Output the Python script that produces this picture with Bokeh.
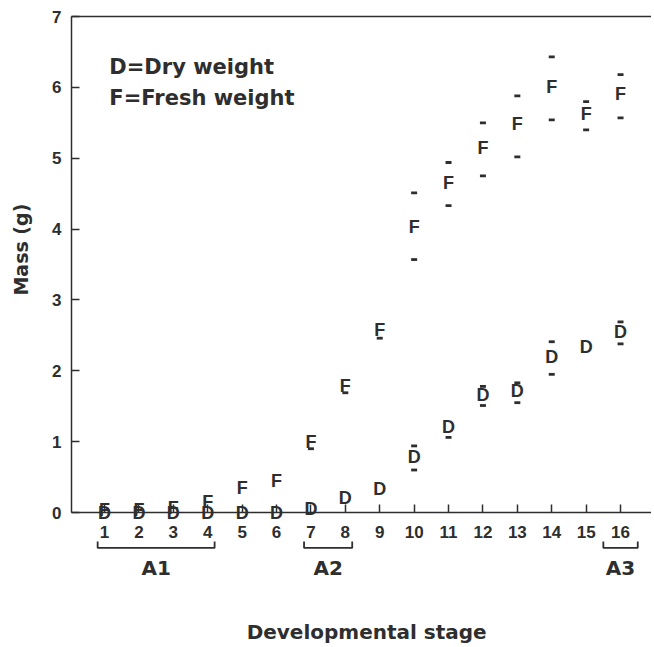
import math
from bokeh.plotting import figure
from bokeh.models import Range1d, Label, FixedTicker, ColumnDataSource
from bokeh.core.properties import value
from bokeh.embed import file_html
from bokeh.resources import INLINE

nan = float("nan")

# ---- data ----
stages = list(range(1, 17))
fresh = [0.03, 0.03, 0.07, 0.15, 0.35, 0.44, 0.99, 1.78, 2.58, 4.03, 4.65, 5.15, 5.49, 6.00, 5.63, 5.90]
fresh_hi = [nan, nan, nan, nan, nan, nan, nan, nan, nan, 4.51, 4.94, 5.50, 5.88, 6.43, 5.80, 6.18]
fresh_lo = [nan, nan, nan, nan, nan, nan, 0.90, 1.69, 2.46, 3.57, 4.33, 4.75, 5.02, 5.54, 5.40, 5.57]
dry = [0.0, 0.0, 0.0, 0.0, 0.0, 0.0, 0.05, 0.21, 0.33, 0.79, 1.20, 1.66, 1.72, 2.20, 2.34, 2.55]
dry_hi = [nan, nan, nan, nan, nan, nan, nan, nan, nan, 0.94, nan, 1.78, 1.83, 2.41, nan, 2.69]
dry_lo = [nan, nan, nan, nan, nan, nan, nan, nan, nan, 0.60, 1.06, 1.51, 1.55, 1.95, nan, 2.38]

group_names = ["A1", "A2", "A3"]
group_first = [1, 7, 16]
group_last = [4, 8, 16]

y_ticks = [0, 1, 2, 3, 4, 5, 6, 7]
legend_lines = ["D=Dry weight", "F=Fresh weight"]
x_title = "Developmental stage"
y_title = "Mass (g)"

INK = "#2e2e2e"
TICK_FONT = "Liberation Sans"
TITLE_FONT = "DejaVu Sans"

X0, X1 = 0.04, 16.9      # extent of the drawn axes
Y0, Y1 = 0.0, 7.0

p = figure(width=651, height=645, output_backend="svg", toolbar_location=None,
           x_range=Range1d(-2.024, 16.9), y_range=Range1d(-1.877, 7.226),
           min_border_left=0, min_border_right=0, min_border_top=0, min_border_bottom=0)
p.background_fill_color = "white"
p.border_fill_color = "white"
p.outline_line_color = None
p.xgrid.visible = False
p.ygrid.visible = False

# x axis sits at y = 0
xa = p.xaxis[0]
xa.fixed_location = Y0
xa.bounds = (X0, X1)
xa.ticker = FixedTicker(ticks=stages)
xa.minor_tick_line_color = None
xa.major_tick_in = 8
xa.major_tick_out = 0
xa.axis_line_color = INK
xa.axis_line_width = 1.5
xa.major_tick_line_color = INK
xa.major_tick_line_width = 1.5
xa.major_label_text_font = TICK_FONT
xa.major_label_text_font_style = "bold"
xa.major_label_text_font_size = "17px"
xa.major_label_text_color = INK
xa.major_label_standoff = 13

# y axis sits at the left end of the x axis
ya = p.yaxis[0]
ya.fixed_location = X0
ya.bounds = (Y0, Y1)
ya.ticker = FixedTicker(ticks=y_ticks)
ya.minor_tick_line_color = None
ya.major_tick_in = 8
ya.major_tick_out = 0
ya.axis_line_color = INK
ya.axis_line_width = 1.5
ya.major_tick_line_color = INK
ya.major_tick_line_width = 1.5
ya.major_label_text_font = TICK_FONT
ya.major_label_text_font_style = "bold"
ya.major_label_text_font_size = "17px"
ya.major_label_text_color = INK
ya.major_label_standoff = 10

# top border of the frame
p.line([X0, X1], [Y1, Y1], line_color=INK, line_width=1.5)

# axis titles
p.add_layout(Label(x=-1.44, y=3.71, text=y_title, angle=math.pi / 2,
                   text_font=TITLE_FONT, text_font_style="bold", text_font_size="19px",
                   text_color=INK, text_align="center", text_baseline="middle"))
p.add_layout(Label(x=8.62, y=-1.68, text=x_title,
                   text_font=TITLE_FONT, text_font_style="bold", text_font_size="20px",
                   text_color=INK, text_align="center", text_baseline="middle"))

# error dashes
def dashes(xs, ys):
    pts = [(x, y) for x, y in zip(xs, ys) if not math.isnan(y)]
    p.scatter([a for a, _ in pts], [b for _, b in pts], marker="dash", size=6,
              line_width=2.8, line_color=INK)

dashes(stages, fresh_hi)
dashes(stages, fresh_lo)
dashes(stages, dry_hi)
dashes(stages, dry_lo)

# letter markers
src_f = ColumnDataSource(dict(x=stages, y=fresh, t=["F"] * len(stages)))
src_d = ColumnDataSource(dict(x=stages, y=dry, t=["D"] * len(stages)))
for src in (src_d, src_f):
    p.text(x="x", y="y", text="t", source=src, text_font=value(TICK_FONT),
           text_font_style="bold", text_font_size="18px", text_color=INK,
           text_align="center", text_baseline="middle")

# stage-group brackets below the axis
bracket_y = -0.50
tip = 0.09
label_y = -0.78
xs, ys = [], []
for a, b in zip(group_first, group_last):
    pad = 0.2 if b > a else 0.5
    l, r = a - pad, b + pad
    xs.append([l, l, r, r])
    ys.append([bracket_y + tip, bracket_y, bracket_y, bracket_y + tip])
p.multi_line(xs, ys, line_color=INK, line_width=1.8)
for name, a, b in zip(group_names, group_first, group_last):
    p.add_layout(Label(x=(a + b) / 2, y=label_y, text=name, text_font=TITLE_FONT,
                       text_font_style="bold", text_font_size="20px", text_color=INK,
                       text_align="center", text_baseline="middle"))

# key
for i, line in enumerate(legend_lines):
    p.add_layout(Label(x=1.14, y=6.29 - 0.44 * i, text=line, text_font=TITLE_FONT,
                       text_font_style="bold", text_font_size="21px", text_color=INK,
                       text_align="left", text_baseline="middle"))

open("out.html", "w").write(file_html(p, INLINE))
